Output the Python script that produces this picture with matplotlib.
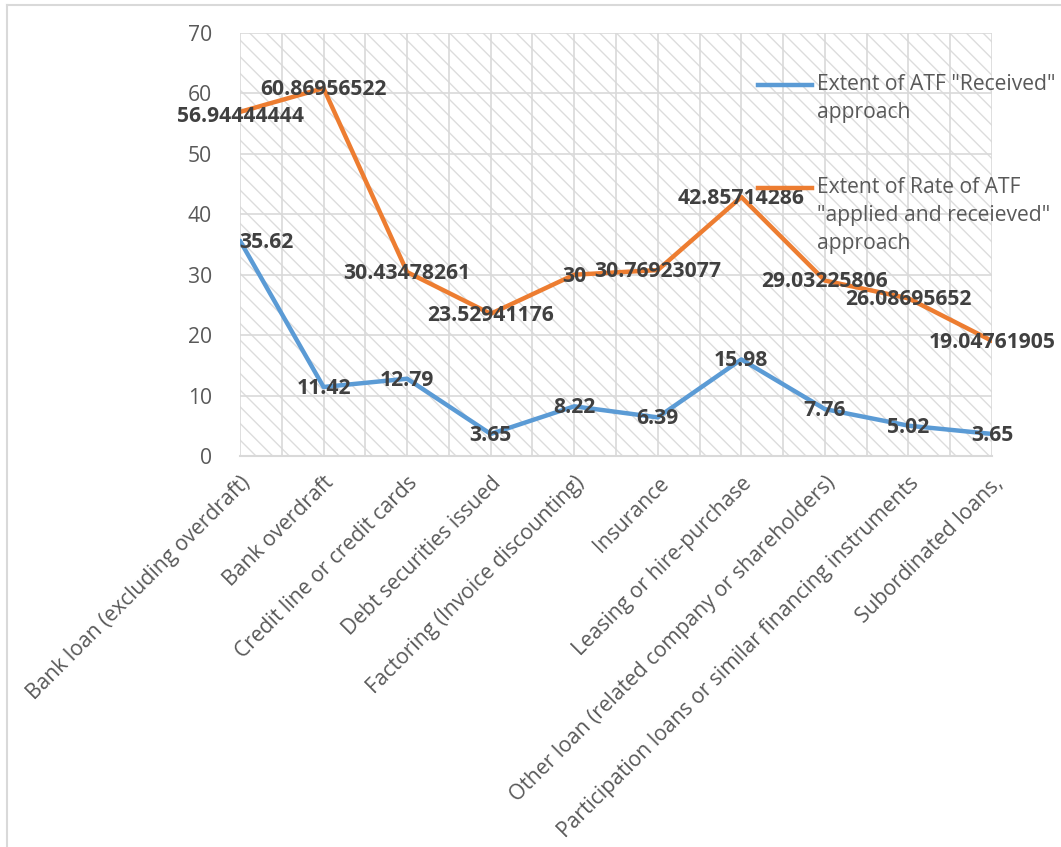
import numpy as np
import matplotlib.pyplot as plt
from matplotlib.patches import Rectangle
from matplotlib.lines import Line2D

plt.switch_backend('agg')

categories = ["Bank loan (excluding overdraft)", "Bank overdraft", "Credit line or credit cards",
              "Debt securities issued", "Factoring (Invoice discounting)", "Insurance",
              "Leasing or hire-purchase", "Other loan (related company or shareholders)",
              "Participation loans or similar financing instruments", "Subordinated loans,"]
received = [35.62, 11.42, 12.79, 3.65, 8.22, 6.39, 15.98, 7.76, 5.02, 3.65]
applied = [56.94444444, 60.86956522, 30.43478261, 23.52941176, 30, 30.76923077,
           42.85714286, 29.03225806, 26.08695652, 19.04761905]
received_labels = ["35.62", "11.42", "12.79", "3.65", "8.22", "6.39", "15.98", "7.76", "5.02", "3.65"]
applied_labels = ["56.94444444", "60.86956522", "30.43478261", "23.52941176", "30", "30.76923077",
                  "42.85714286", "29.03225806", "26.08695652", "19.04761905"]
legend_labels = ['Extent of ATF "Received"\napproach',
                 'Extent of Rate of ATF\n"applied and receieved"\napproach']

BLUE = "#5b9bd5"
ORANGE = "#ed7d31"
GRID = "#d9d9d9"
TXT = "#595959"
LBL = "#404040"
FS = 15.2

plt.rcParams['font.family'] = ['Open Sans', 'DejaVu Sans']
plt.rcParams['hatch.linewidth'] = 1.0
plt.rcParams['hatch.color'] = "#dcdcdc"

fig = plt.figure(figsize=(10.61, 8.47), dpi=100)
W, H = 1061, 847
ax = fig.add_axes([240 / W, 1 - 456 / H, (992 - 240) / W, (456 - 33) / H])

x = np.arange(len(categories))
ax.set_xlim(0, len(categories) - 1)
ax.set_ylim(0, 70)

# hatched plot area
ax.add_patch(Rectangle((0, 0), 1, 1, transform=ax.transAxes, facecolor="white",
                       edgecolor="#dcdcdc", hatch="\\\\", lw=0, zorder=0))

for xv in np.arange(0, len(categories) - 0.9, 0.5):
    ax.axvline(xv, color=GRID, lw=1.2, zorder=1)
for yv in range(10, 71, 10):
    ax.axhline(yv, color=GRID, lw=1.2, zorder=1)

ax.plot(x, received, color=BLUE, lw=3.2, solid_capstyle='round', zorder=3)
ax.plot(x, applied, color=ORANGE, lw=3.2, solid_capstyle='round', zorder=3)

# data labels sit centred on the points (first blue one is pushed right in the original)
for i in range(len(categories)):
    dx = 19 if i == 0 else 0
    ax.annotate(received_labels[i], (x[i], received[i]), xytext=(dx, -1),
                textcoords='offset points', ha='center', va='center', fontsize=FS,
                fontweight='bold', color=LBL, zorder=5)
    dy = -3 if i == 0 else -1
    ax.annotate(applied_labels[i], (x[i], applied[i]), xytext=(0, dy),
                textcoords='offset points', ha='center', va='center', fontsize=FS,
                fontweight='bold', color=LBL, zorder=5)

ax.set_yticks(range(0, 71, 10))
ax.set_xticks(x)
ax.set_xticklabels(categories, rotation=45, ha='right', rotation_mode='anchor')
ax.tick_params(axis='both', length=0, labelsize=FS, labelcolor=TXT)
ax.tick_params(axis='y', pad=20)
ax.tick_params(axis='x', pad=12)
for s in ['top', 'right', 'left']:
    ax.spines[s].set_visible(False)
ax.spines['bottom'].set_color(GRID)
ax.spines['bottom'].set_linewidth(1.5)
ax.spines['bottom'].set_zorder(2)

# legend drawn by hand so the key sits on the first line
for color, label, ytop in [(BLUE, legend_labels[0], 85), (ORANGE, legend_labels[1], 188)]:
    fig.add_artist(Line2D([758 / W, 812 / W], [1 - ytop / H, 1 - ytop / H], color=color, lw=3.2))
    fig.text(817 / W, 1 - (ytop - 11) / H, label, ha='left', va='top', fontsize=FS,
             color=TXT, linespacing=1.45)

# chart frame
fig.add_artist(Line2D([7 / W, 1], [1 - 5 / H, 1 - 5 / H], color=GRID, lw=1.5))
fig.add_artist(Line2D([7 / W, 7 / W], [0, 1 - 5 / H], color=GRID, lw=1.5))

fig.savefig("out.png", dpi=100)
